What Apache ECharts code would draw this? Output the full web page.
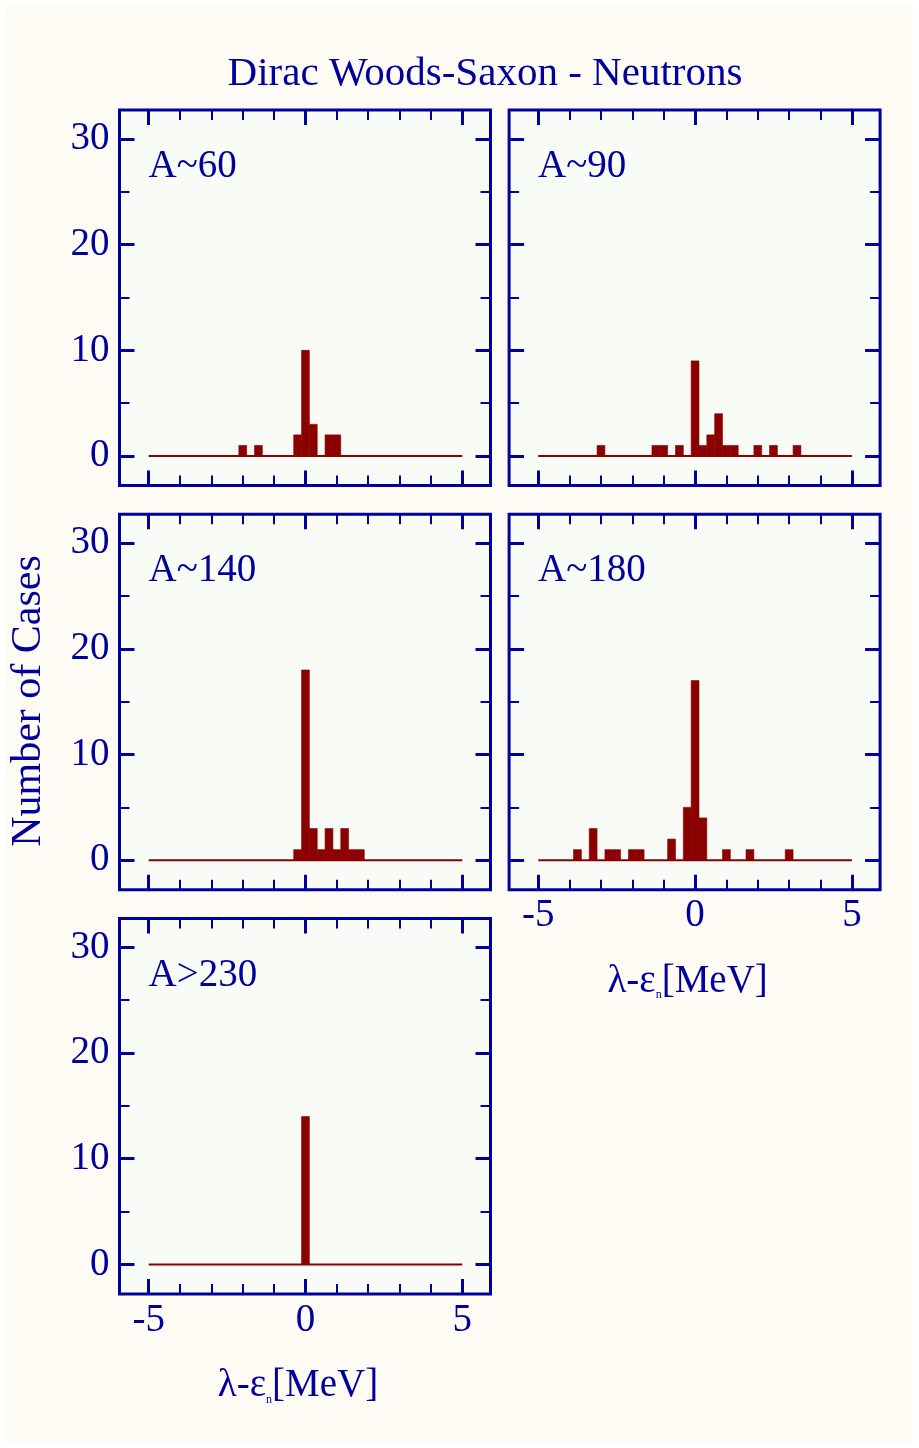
<!DOCTYPE html>
<html>
<head>
<meta charset="utf-8">
<script src="https://cdn.jsdelivr.net/npm/echarts@6/dist/echarts.min.js"></script>
<style>
  html, body { margin: 0; padding: 0; background: #ffffff; }
  #chart { position: absolute; left: 0; top: 0; width: 919px; height: 1448px;
           background: #fdfbf4; box-shadow: inset 0 0 0 6px #ffffff; }
</style>
</head>
<body>
<div id="chart"></div>
<script>
// ---------------- data ----------------
const chartTitle = 'Dirac Woods-Saxon - Neutrons';
const yAxisTitle = 'Number of Cases';
const xAxisTitle = 'λ-ε{s|n}[MeV]';
const panelLabels = ['A~60', 'A~90', 'A~140', 'A~180', 'A>230'];

const binWidth = 0.25;              // MeV
const baseRange = [-5, 5];          // histogram range (MeV)

const centersA60 = [-2, -1.5, -0.25, 0, 0.25, 0.75, 1.0];
const countsA60  = [1, 1, 2, 10, 3, 2, 2];

const centersA90 = [-3, -1.25, -1.0, -0.5, 0, 0.25, 0.5, 0.75, 1.0, 1.25, 2.0, 2.5, 3.25];
const countsA90  = [1, 1, 1, 1, 9, 1, 2, 4, 1, 1, 1, 1, 1];

const centersA140 = [-0.25, 0, 0.25, 0.5, 0.75, 1.0, 1.25, 1.5, 1.75];
const countsA140  = [1, 18, 3, 1, 3, 1, 3, 1, 1];

const centersA180 = [-3.75, -3.25, -2.75, -2.5, -2.0, -1.75, -0.75, -0.25, 0, 0.25, 1.0, 1.75, 3.0];
const countsA180  = [1, 3, 1, 1, 1, 1, 2, 5, 17, 4, 1, 1, 1];

const centersA230 = [0];
const countsA230  = [14];

const xMajorTicks = [-5, 0, 5];
const xMinorTicks = [-4, -3, -2, -1, 1, 2, 3, 4];
const yMajorTicks = [0, 10, 20, 30];
const yMinorTicks = [5, 15, 25];
const xRange = [-5.93, 5.9];
const yRange = [-2.79, 32.74];

// ---------------- style / layout ----------------
const FONT = "'Liberation Serif','Times New Roman','DejaVu Serif',serif";
const NAVY = '#00009c';
const RED = '#8b0000';
const PLOT_BG = '#f9fcf6';
const colLeft = [119.5, 509.1];
const rowTop = [110, 514.2, 918.4];
const W = 371, H = 375.5;

const panels = [
  { centers: centersA60,  counts: countsA60,  col: 0, row: 0, yLab: true,  xLab: false },
  { centers: centersA90,  counts: countsA90,  col: 1, row: 0, yLab: false, xLab: false },
  { centers: centersA140, counts: countsA140, col: 0, row: 1, yLab: true,  xLab: false },
  { centers: centersA180, counts: countsA180, col: 1, row: 1, yLab: false, xLab: true },
  { centers: centersA230, counts: countsA230, col: 0, row: 2, yLab: true,  xLab: true }
];

const grid = [], xAxis = [], yAxis = [], series = [];
const graphic = [];

graphic.push({
  type: 'text', x: 485, y: 74.5,
  style: { text: chartTitle, font: '41px ' + FONT, fill: NAVY, align: 'center', verticalAlign: 'middle' }
});
graphic.push({
  type: 'text', x: 29, y: 701, rotation: Math.PI / 2,
  style: { text: yAxisTitle, font: '42px ' + FONT, fill: NAVY, align: 'center', verticalAlign: 'middle' }
});

panels.forEach((p, i) => {
  const left = colLeft[p.col], top = rowTop[p.row];
  grid.push({ left: left, top: top, width: W, height: H, show: true,
    backgroundColor: PLOT_BG, borderColor: NAVY, borderWidth: 3, containLabel: false });

  const baseX = { type: 'value', gridIndex: i, min: xRange[0], max: xRange[1],
    splitLine: { show: false }, axisLine: { show: false, onZero: false } };
  const baseY = { type: 'value', gridIndex: i, min: yRange[0], max: yRange[1],
    splitLine: { show: false }, axisLine: { show: false, onZero: false } };
  const lbl = { color: NAVY, fontFamily: FONT, fontSize: 39 };

  ['bottom', 'top'].forEach(pos => {
    xAxis.push(Object.assign({}, baseX, { position: pos,
      axisTick: { show: true, inside: true, length: 15, customValues: xMajorTicks, lineStyle: { color: NAVY, width: 3 } },
      axisLabel: (pos === 'bottom' && p.xLab) ? Object.assign({ show: true, margin: 7, customValues: xMajorTicks }, lbl) : { show: false }
    }));
    xAxis.push(Object.assign({}, baseX, { position: pos,
      axisTick: { show: true, inside: true, length: 10, customValues: xMinorTicks, lineStyle: { color: NAVY, width: 2 } },
      axisLabel: { show: false }
    }));
  });
  ['left', 'right'].forEach(pos => {
    yAxis.push(Object.assign({}, baseY, { position: pos,
      axisTick: { show: true, inside: true, length: 15, customValues: yMajorTicks, lineStyle: { color: NAVY, width: 3 } },
      axisLabel: (pos === 'left' && p.yLab) ? Object.assign({ show: true, margin: 10, padding: [6, 0, 0, 0], customValues: yMajorTicks }, lbl) : { show: false }
    }));
    yAxis.push(Object.assign({}, baseY, { position: pos,
      axisTick: { show: true, inside: true, length: 10, customValues: yMinorTicks, lineStyle: { color: NAVY, width: 2 } },
      axisLabel: { show: false }
    }));
  });

  series.push({
    type: 'line', xAxisIndex: 4 * i, yAxisIndex: 4 * i,
    data: [[baseRange[0], 0], [baseRange[1], 0]],
    symbol: 'none', silent: true,
    lineStyle: { color: RED, width: 2 }
  });
  series.push({
    type: 'custom', xAxisIndex: 4 * i, yAxisIndex: 4 * i,
    data: p.centers.map((c, k) => [c, p.counts[k]]),
    renderItem: function (params, api) {
      const c = api.value(0), n = api.value(1);
      const a = api.coord([c - binWidth / 2, n]);
      const b = api.coord([c + binWidth / 2, 0]);
      return { type: 'rect', shape: { x: a[0], y: a[1], width: b[0] - a[0], height: b[1] - a[1] },
               style: { fill: RED, stroke: RED, lineWidth: 0.6 } };
    }
  });

  graphic.push({
    type: 'text', x: left + 29, y: top + 57,
    style: { text: panelLabels[i], font: '39px ' + FONT, fill: NAVY, align: 'left', verticalAlign: 'middle' }
  });
  if (p.xLab) {
    graphic.push({
      type: 'text', x: left + W / 2 - 7, y: top + H + 92,
      style: { text: xAxisTitle, font: '39px ' + FONT, fill: NAVY, align: 'center', verticalAlign: 'middle',
               rich: { s: { fontSize: 12, fontFamily: FONT, fill: NAVY, verticalAlign: 'bottom' } } }
    });
  }
});

const chart = echarts.init(document.getElementById('chart'), null, { renderer: 'canvas' });
chart.setOption({
  animation: false,
  backgroundColor: 'transparent',
  grid: grid, xAxis: xAxis, yAxis: yAxis, series: series, graphic: graphic
});
</script>
</body>
</html>
